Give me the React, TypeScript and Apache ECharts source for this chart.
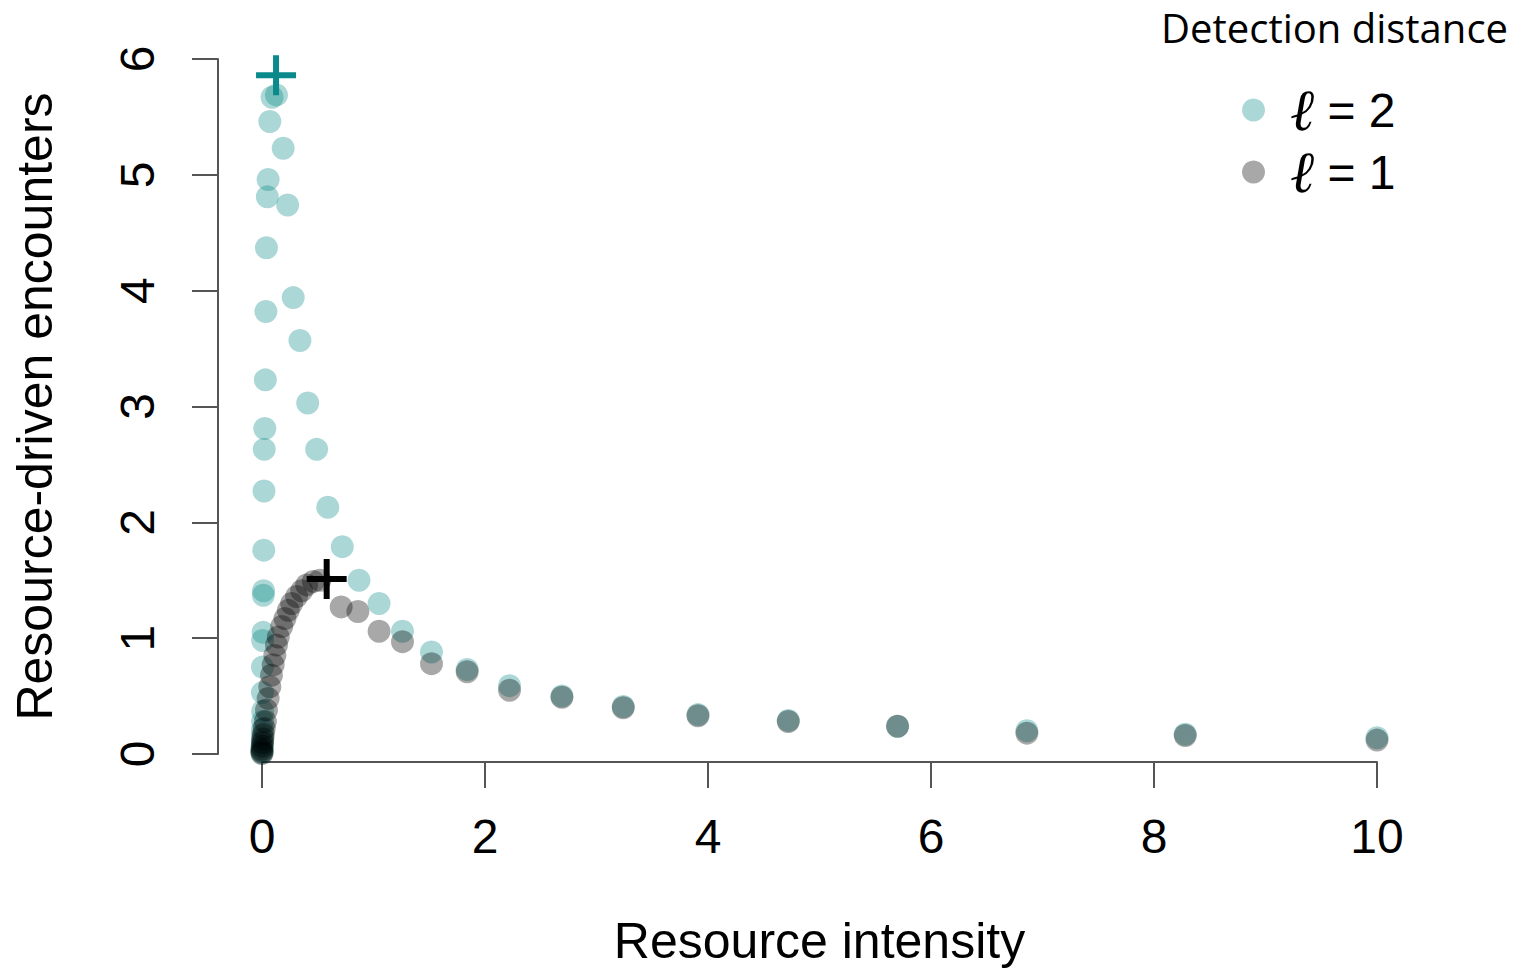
import React, { useEffect, useRef } from 'react';
import * as echarts from 'echarts';

// ---- Data ----
const xTickValues = [0, 2, 4, 6, 8, 10];
const yTickValues = [0, 1, 2, 3, 4, 5, 6];

const legendTitle = 'Detection distance';
const seriesNames = ['ℓ = 2', 'ℓ = 1'];
const xTitle = 'Resource intensity';
const yTitle = 'Resource-driven encounters';

// detection distance l = 2 (teal)
const l2Points: [number, number][] = [
  [0, 0.01], [0, 0.03], [0.001, 0.06], [0.002, 0.1], [0.003, 0.15], [0.004, 0.21],
  [0.005, 0.28], [0.006, 0.37], [0.004, 0.53], [0.004, 0.75], [0.006, 0.98], [0.01, 1.05],
  [0.012, 1.37], [0.014, 1.41], [0.016, 1.76], [0.018, 2.27], [0.02, 2.63], [0.025, 2.81],
  [0.03, 3.23], [0.035, 3.82], [0.04, 4.37], [0.048, 4.81], [0.055, 4.96], [0.07, 5.46],
  [0.09, 5.67],
  [0.13, 5.69], [0.19, 5.23], [0.23, 4.74], [0.28, 3.94], [0.34, 3.57], [0.41, 3.03],
  [0.49, 2.63], [0.59, 2.13], [0.72, 1.79], [0.87, 1.5], [1.05, 1.3], [1.26, 1.06],
  [1.52, 0.88], [1.84, 0.73], [2.22, 0.59], [2.69, 0.5], [3.24, 0.41], [3.91, 0.34],
  [4.72, 0.29], [5.7, 0.24], [6.86, 0.2], [8.28, 0.17], [10, 0.14],
];

// detection distance l = 1 (grey)
const l1Points: [number, number][] = [
  [0, 0.005], [0, 0.02], [0, 0.04], [0.002, 0.07], [0.005, 0.1], [0.008, 0.13],
  [0.012, 0.17], [0.02, 0.22], [0.03, 0.28], [0.04, 0.38], [0.055, 0.48], [0.07, 0.58],
  [0.085, 0.68], [0.1, 0.77], [0.115, 0.85], [0.13, 0.94], [0.146, 1.01], [0.177, 1.1],
  [0.206, 1.17], [0.236, 1.24], [0.266, 1.3], [0.31, 1.36], [0.356, 1.41], [0.4, 1.46],
  [0.46, 1.49], [0.52, 1.5],
  [0.71, 1.27], [0.86, 1.23], [1.05, 1.06], [1.26, 0.97], [1.52, 0.78], [1.84, 0.71],
  [2.22, 0.55], [2.69, 0.49], [3.24, 0.4], [3.91, 0.33], [4.72, 0.28], [5.7, 0.24],
  [6.86, 0.18], [8.28, 0.16], [10, 0.12],
];

// maxima (plus markers)
const l2Peak: [number, number][] = [[0.126, 5.86]];
const l1Peak: [number, number][] = [[0.58, 1.51]];

const PLUS =
  'path://M17,0H23V17H40V23H23V40H17V23H0V17H17Z';

const TEAL_DOT = 'rgba(0,135,130,0.33)';
const GREY_DOT = 'rgba(0,0,0,0.34)';
const AXIS_COLOR = '#555';
const FONT = '"Liberation Sans", Arial, Helvetica, sans-serif';

export default function App() {
  const ref = useRef<HTMLDivElement>(null);

  useEffect(() => {
    if (!ref.current) return;
    const chart = echarts.init(ref.current, undefined, { renderer: 'svg' });
    const option: any = {
      animation: false,
      backgroundColor: '#fff',
      title: {
        text: legendTitle,
        right: 9,
        top: 6,
        padding: 0,
        textStyle: {
          fontFamily: '"Open Sans", Lato, sans-serif',
          fontWeight: 'normal',
          fontSize: 40,
          lineHeight: 42,
          color: '#000',
        },
      },
      legend: {
        data: seriesNames,
        orient: 'vertical',
        left: 1242,
        top: 81,
        itemGap: 4,
        itemWidth: 23,
        itemHeight: 23,
        icon: 'circle',
        padding: 0,
        formatter: (name: string) => {
          const parts = name.split(' = ');
          return `{e|${parts[0]}}{t| = ${parts[1]}}`;
        },
        textStyle: {
          color: '#000',
          rich: {
            e: {
              fontFamily: '"DejaVu Serif", serif',
              fontStyle: 'italic',
              fontSize: 58,
              lineHeight: 50,
              color: '#000',
              padding: [0, 0, 0, 20],
            },
            t: {
              fontFamily: FONT,
              fontSize: 48,
              lineHeight: 50,
              color: '#000',
            },
          },
        },
      },
      grid: { left: 262, right: 140, top: 59, bottom: 215, containLabel: false },
      xAxis: {
        type: 'value',
        min: 0,
        max: 10,
        interval: 2,
        offset: 8,
        axisLine: { show: true, onZero: false, lineStyle: { color: AXIS_COLOR, width: 2 } },
        axisTick: { show: true, length: 26, lineStyle: { color: AXIS_COLOR, width: 2 } },
        splitLine: { show: false },
        axisLabel: {
          fontFamily: FONT,
          fontSize: 48,
          color: '#000',
          margin: 50,
          formatter: (v: number) => (xTickValues.includes(v) ? String(v) : ''),
        },
        name: xTitle,
        nameLocation: 'middle',
        nameGap: 154,
        nameTextStyle: { fontFamily: FONT, fontSize: 50, color: '#000' },
      },
      yAxis: {
        type: 'value',
        min: 0,
        max: 6,
        interval: 1,
        offset: 44,
        axisLine: { show: true, onZero: false, lineStyle: { color: AXIS_COLOR, width: 2 } },
        axisTick: { show: true, length: 26, lineStyle: { color: AXIS_COLOR, width: 2 } },
        splitLine: { show: false },
        axisLabel: {
          fontFamily: FONT,
          fontSize: 48,
          color: '#000',
          rotate: 90,
          margin: 57,
          formatter: (v: number) => (yTickValues.includes(v) ? String(v) : ''),
        },
        name: yTitle,
        nameLocation: 'middle',
        nameRotate: 90,
        nameGap: 158,
        nameTextStyle: { fontFamily: FONT, fontSize: 50, color: '#000' },
      },
      series: [
        {
          name: seriesNames[0],
          type: 'scatter',
          data: l2Points,
          symbol: 'circle',
          symbolSize: 23,
          clip: false,
          itemStyle: { color: TEAL_DOT, opacity: 1 },
          z: 2,
        },
        {
          name: seriesNames[1],
          type: 'scatter',
          data: l1Points,
          symbol: 'circle',
          symbolSize: 23,
          clip: false,
          itemStyle: { color: GREY_DOT, opacity: 1 },
          z: 3,
        },
        {
          name: 'max l2',
          type: 'scatter',
          data: l2Peak,
          symbol: PLUS,
          symbolSize: 40,
          clip: false,
          itemStyle: { color: '#0a8a8a', opacity: 1 },
          z: 4,
        },
        {
          name: 'max l1',
          type: 'scatter',
          data: l1Peak,
          symbol: PLUS,
          symbolSize: 40,
          clip: false,
          itemStyle: { color: '#000', opacity: 1 },
          z: 4,
        },
      ],
    };
    chart.setOption(option);
    return () => chart.dispose();
  }, []);

  return (
    <div
      ref={ref}
      style={{ position: 'fixed', left: 0, top: 0, width: 1517, height: 971, background: '#fff' }}
    />
  );
}
